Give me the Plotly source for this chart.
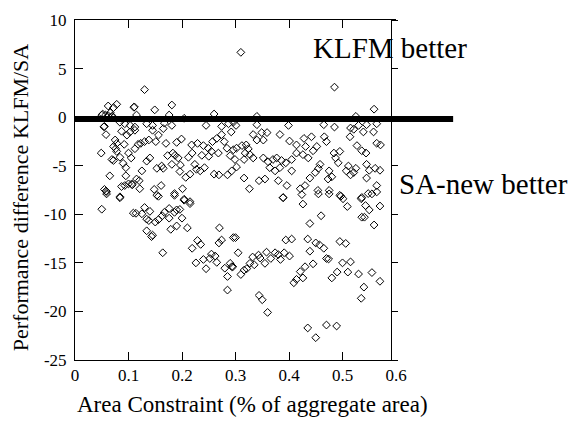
import plotly.graph_objects as go

# Area constraint (fraction of aggregate area) for each run
area = [
    0.050, 0.084, 0.130, 0.114, 0.125, 0.140, 0.134, 0.138, 0.150, 0.156,
    0.163, 0.167, 0.176, 0.176, 0.186, 0.190, 0.196, 0.200, 0.215, 0.204,
    0.186, 0.156, 0.059, 0.134, 0.145, 0.143, 0.179, 0.190, 0.210, 0.164,
    0.270, 0.296, 0.229, 0.235, 0.219, 0.269, 0.274, 0.226, 0.240, 0.245,
    0.252, 0.255, 0.262, 0.265, 0.280, 0.285, 0.285, 0.290, 0.293,
    0.389, 0.426, 0.424, 0.455, 0.475, 0.495, 0.501, 0.509, 0.535, 0.543,
    0.550, 0.555, 0.570, 0.536, 0.541, 0.559, 0.460, 0.439, 0.300, 0.305,
    0.295, 0.310, 0.316, 0.321, 0.327, 0.335, 0.332, 0.343, 0.346, 0.355,
    0.358, 0.366, 0.374, 0.380, 0.384, 0.391, 0.401, 0.394, 0.405, 0.344,
    0.350, 0.360, 0.435, 0.450, 0.457, 0.465, 0.439, 0.470, 0.474, 0.445,
    0.430, 0.421, 0.426, 0.414, 0.409, 0.495, 0.506, 0.500, 0.515, 0.490,
    0.480, 0.510, 0.530, 0.555, 0.570, 0.540, 0.535, 0.435, 0.450, 0.470,
    0.489,
    0.130, 0.062, 0.078, 0.072, 0.110, 0.149, 0.181, 0.050, 0.057, 0.062,
    0.069, 0.115, 0.176, 0.204, 0.260, 0.055, 0.058, 0.084, 0.093, 0.103,
    0.112, 0.134, 0.145, 0.167, 0.181, 0.245, 0.274, 0.287, 0.296, 0.087,
    0.103, 0.112, 0.097, 0.145, 0.165, 0.156, 0.075, 0.078, 0.072, 0.076,
    0.092, 0.112, 0.118, 0.123, 0.130, 0.138, 0.151, 0.170, 0.190, 0.199,
    0.049, 0.069, 0.084, 0.100, 0.105, 0.095, 0.125, 0.134, 0.140, 0.153,
    0.162, 0.165, 0.173, 0.183, 0.187, 0.193, 0.181, 0.197, 0.212, 0.219,
    0.218, 0.229, 0.240, 0.249, 0.257, 0.265, 0.274, 0.279, 0.284, 0.292,
    0.268, 0.255, 0.250, 0.237, 0.224, 0.227, 0.234, 0.242, 0.215, 0.207,
    0.260, 0.269, 0.285, 0.065, 0.095, 0.087, 0.100, 0.107, 0.120, 0.055,
    0.059, 0.084, 0.148, 0.161, 0.153, 0.186, 0.201, 0.204, 0.215, 0.196,
    0.310, 0.485, 0.559, 0.340, 0.525, 0.301, 0.340, 0.399, 0.465, 0.485,
    0.545, 0.564, 0.515, 0.521, 0.530, 0.539, 0.558, 0.333, 0.349, 0.359,
    0.383, 0.514, 0.564, 0.571, 0.340, 0.352, 0.401, 0.428, 0.442, 0.466,
    0.470, 0.414, 0.431, 0.452, 0.445, 0.495, 0.484, 0.527, 0.536, 0.544,
    0.296, 0.302, 0.312, 0.320, 0.324, 0.318, 0.327, 0.333, 0.316, 0.299,
    0.290, 0.302, 0.293, 0.352, 0.361, 0.370, 0.377, 0.386, 0.394, 0.405,
    0.414, 0.426, 0.436, 0.364, 0.374, 0.383, 0.405, 0.355, 0.344, 0.316,
    0.326, 0.380, 0.396, 0.389, 0.421, 0.430, 0.439, 0.449, 0.455, 0.458,
    0.454, 0.475, 0.473, 0.480, 0.492, 0.487, 0.475, 0.497, 0.507, 0.515,
    0.521, 0.525, 0.511, 0.545, 0.550, 0.561, 0.570, 0.545, 0.564, 0.548,
    0.536, 0.564,
    0.058, 0.072, 0.090, 0.078, 0.093, 0.106, 0.115, 0.121, 0.109, 0.111,
    0.054, 0.052, 0.066, 0.070,
]

# Performance difference of KLFM relative to SA (percent)
perf_diff = [
    -9.48, -8.30, -9.30, -9.90, -9.95, -9.70, -10.50, -10.65, -10.80, -10.55,
    -10.15, -9.80, -9.40, -10.40, -9.80, -9.55, -9.50, -10.40, -8.90, -8.55,
    -8.05, -8.15, -7.90, -11.70, -12.15, -12.30, -11.55, -11.20, -11.40, -13.96,
    -11.40, -12.40, -12.70, -13.10, -13.50, -12.95, -12.65, -15.00, -14.65, -15.60,
    -14.55, -14.10, -14.30, -14.95, -15.55, -16.40, -17.80, -15.05, -15.40,
    -8.30, -8.95, -7.97, -7.90, -7.90, -8.05, -8.40, -9.20, -8.40, -9.10,
    -9.55, -7.90, -9.15, -10.30, -10.30, -11.10, -10.15, -10.95, -12.40, -13.96,
    -15.40, -16.20, -15.75, -15.60, -15.05, -15.20, -14.40, -14.20, -14.50, -15.05,
    -13.90, -14.55, -13.96, -14.15, -14.65, -13.96, -14.30, -12.65, -12.55, -18.35,
    -18.80, -20.10, -12.55, -12.95, -13.15, -13.50, -13.80, -14.55, -14.60, -15.10,
    -15.40, -15.90, -16.55, -16.70, -17.05, -12.80, -13.00, -15.00, -14.90, -15.95,
    -16.55, -15.95, -16.15, -16.00, -16.90, -17.50, -18.65, -21.70, -22.70, -21.40,
    -21.50,
    2.83, 1.15, 1.32, 0.98, 1.02, 0.75, 1.25, 0.22, 0.22, 0.15,
    0.08, 0.22, 0.22, -0.12, 0.32, -0.95, -1.80, -0.52, -0.68, -0.85,
    -1.02, -0.68, -0.85, -0.62, -0.85, -0.85, -0.95, -0.68, -0.52, -1.45,
    -1.52, -1.35, -1.85, -1.35, -1.18, -1.85, -2.35, -2.70, -3.02, -3.25,
    -2.80, -3.25, -2.80, -2.70, -2.52, -2.35, -2.52, -2.70, -2.60, -2.25,
    -3.70, -4.36, -4.13, -3.70, -4.20, -5.20, -5.53, -4.53, -4.20, -5.27,
    -5.03, -5.27, -3.96, -3.70, -3.93, -4.20, -4.86, -4.93, -4.13, -3.70,
    -2.86, -2.70, -2.93, -3.20, -2.52, -2.19, -1.80, -2.52, -3.20, -1.52,
    -3.70, -3.53, -4.03, -3.93, -4.86, -5.37, -5.53, -5.20, -5.87, -6.20,
    -5.87, -5.94, -5.94, -6.04, -6.04, -7.14, -6.87, -6.97, -6.54, -7.44,
    -7.70, -8.20, -7.44, -7.04, -8.04, -7.87, -7.37, -8.45, -8.70, -5.60,
    6.67, 3.09, 0.82, 0.08, 0.08, -0.85, -0.78, -0.85, -0.78, -1.02,
    -0.78, -0.68, -1.12, -1.25, -0.85, -1.52, -1.52, -1.79, -1.59, -1.59,
    -1.79, -2.02, -2.69, -2.86, -2.36, -2.36, -2.46, -2.19, -2.02, -2.02,
    -2.52, -2.86, -3.02, -3.02, -3.46, -3.53, -3.70, -2.93, -3.46, -3.70,
    -3.36, -3.19, -2.93, -2.86, -3.26, -3.70, -3.86, -4.20, -4.36, -4.36,
    -3.96, -5.13, -5.53, -4.20, -4.60, -4.36, -4.20, -4.46, -4.70, -4.36,
    -3.70, -3.86, -4.20, -5.20, -5.53, -5.20, -5.53, -6.37, -6.54, -6.27,
    -7.37, -6.54, -7.04, -8.27, -7.37, -7.04, -6.27, -5.70, -5.27, -4.86,
    -7.54, -5.53, -6.37, -6.14, -4.70, -4.20, -7.54, -8.14, -5.53, -5.94,
    -5.70, -5.27, -5.03, -4.86, -5.47, -5.27, -5.47, -6.27, -7.04, -7.87,
    -8.27, -7.70,
    -7.60, -4.46, -4.76, -3.53, -7.04, -6.87, -6.37, -7.37, -9.88, 1.05,
    -1.00, 0.30, 0.45, 0.10,
]

x_ticks = [0, 0.1, 0.2, 0.3, 0.4, 0.5, 0.6]
x_tick_text = ["0", "0.1", "0.2", "0.3", "0.4", "0.5", "0.6"]
y_ticks = [10, 5, 0, -5, -10, -15, -20, -25]
y_tick_text = ["10", "5", "0", "-5", "-10", "-15", "-20", "-25"]

break_even = -0.2

SERIF = "'Liberation Serif', 'Times New Roman', Times, serif"

fig = go.Figure()

fig.add_trace(go.Scatter(
    x=area, y=perf_diff, mode="markers",
    marker=dict(symbol="diamond-open", size=6, color="black",
                line=dict(width=1, color="black")),
    showlegend=False, hoverinfo="x+y",
))

# helper trace so the right-hand frame axis gets drawn
fig.add_trace(go.Scatter(
    x=[0.3], y=[0], yaxis="y2", mode="markers",
    marker=dict(opacity=0), showlegend=False, hoverinfo="skip",
))

fig.update_layout(
    width=574, height=421,
    margin=dict(l=75, r=178, t=11, b=61),
    paper_bgcolor="white", plot_bgcolor="white",
    font=dict(family=SERIF, color="black", size=17),
    xaxis=dict(
        range=[0, 0.6], tickvals=x_ticks, ticktext=x_tick_text,
        ticks="inside", ticklen=8, tickcolor="black", tickwidth=1,
        showline=True, linecolor="black", linewidth=1, mirror="ticks",
        showgrid=False, zeroline=False,
        tickfont=dict(family=SERIF, size=17),
    ),
    yaxis=dict(
        range=[-25, 10], tickvals=y_ticks, ticktext=y_tick_text,
        ticks="inside", ticklen=8, tickcolor="black", tickwidth=1,
        showline=True, linecolor="black", linewidth=1,
        showgrid=False, zeroline=False, ticklabelstandoff=4,
        tickfont=dict(family=SERIF, size=17),
    ),
    yaxis2=dict(
        range=[-25, 10], tickvals=y_ticks, overlaying="y", anchor="free",
        position=0.9835, side="right", showticklabels=False,
        ticks="outside", ticklen=6, tickcolor="black",
        showline=True, linecolor="black", linewidth=1,
        showgrid=False, zeroline=False,
    ),
)

# break-even line, running past the frame on the right
fig.add_shape(type="line", xref="paper", yref="y",
              x0=0, x1=1.178, y0=break_even, y1=break_even,
              line=dict(color="black", width=6))

fig.add_annotation(text="Area Constraint (% of aggregate area)",
                   xref="paper", yref="paper", x=0.5545, y=-0.13,
                   xanchor="center", yanchor="middle", showarrow=False,
                   font=dict(family=SERIF, size=23))
fig.add_annotation(text="Performance difference KLFM/SA",
                   xref="paper", yref="paper", x=-0.171, y=0.479,
                   xanchor="center", yanchor="middle", textangle=-90,
                   showarrow=False, font=dict(family=SERIF, size=22))
fig.add_annotation(text="KLFM better", xref="paper", yref="paper",
                   x=0.981, y=0.917, xanchor="center", yanchor="middle",
                   showarrow=False, font=dict(family=SERIF, size=29))
fig.add_annotation(text="SA-new better", xref="paper", yref="paper",
                   x=1.274, y=0.518, xanchor="center", yanchor="middle",
                   showarrow=False, font=dict(family=SERIF, size=29))

fig.write_html("out.html")
